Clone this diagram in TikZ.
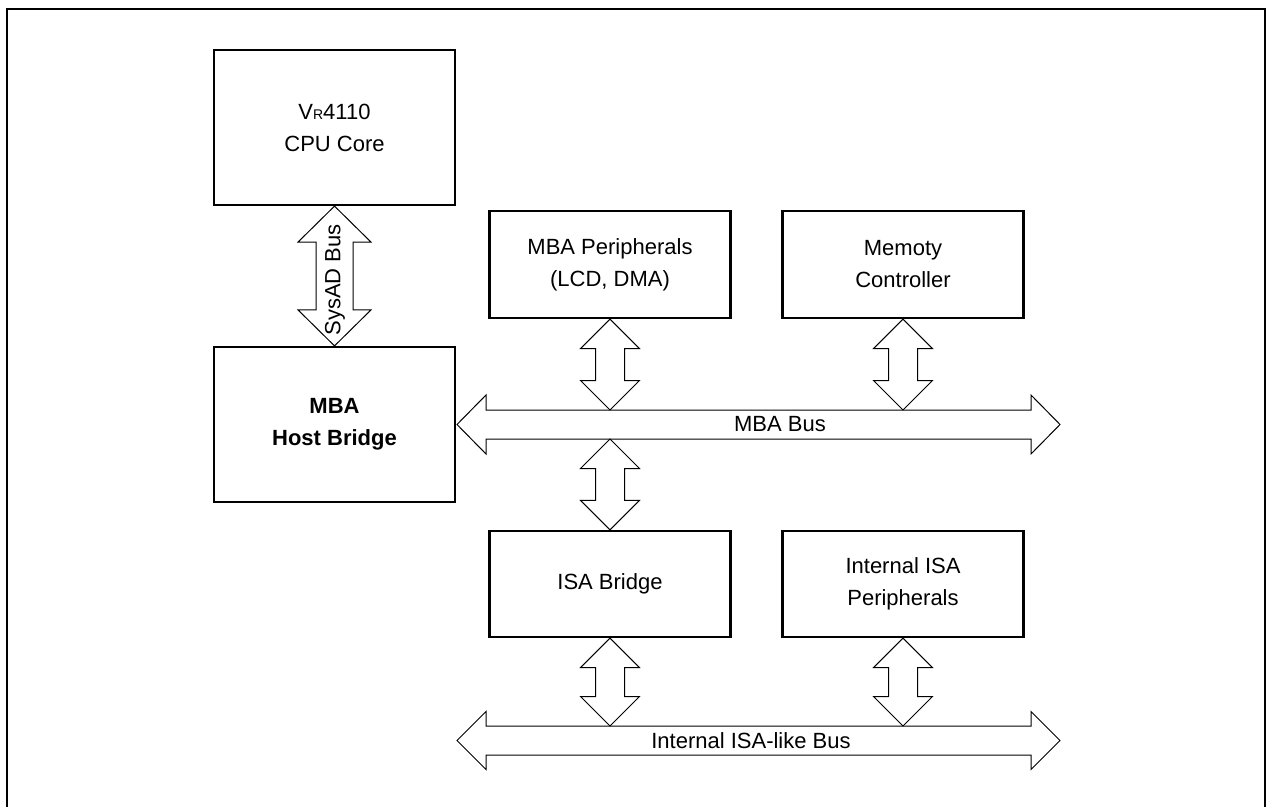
\documentclass[tikz,border=0pt]{standalone}
\usepackage{fontspec}
\setmainfont{Liberation Sans}
\usetikzlibrary{calc}

\tikzset{
  blok/.style={draw, line width=1.1pt, minimum width=120.5pt, align=center,
    font=\fontsize{11}{16}\selectfont},
  busrand/.style={draw, line width=0.5pt},
  buslabel/.style={font=\fontsize{11}{13}\selectfont},
}

% dikke pijl verticaal: top, bodem, halve kopbreedte, halve schachtbreedte, koplengte
\newcommand{\vbus}[5]{%
  \draw[busrand] (#1) -- ++(#3,#5) -- ++(#4-#3,0) -- ($(#2)+(#4,-#5)$) -- ++(#3-#4,0)
    -- (#2) -- ++(-#3,-#5) -- ++(#3-#4,0) -- ($(#1)+(-#4,#5)$) -- ++(#4-#3,0) -- cycle;}
% dikke pijl horizontaal: links, rechts, halve kophoogte, halve schachthoogte, koplengte
\newcommand{\hbus}[5]{%
  \draw[busrand] (#1) -- ++(#5,-#3) -- ++(0,#3-#4) -- ($(#2)+(-#5,-#4)$) -- ++(0,#4-#3)
    -- (#2) -- ++(-#5,#3) -- ++(0,#4-#3) -- ($(#1)+(#5,#4)$) -- ++(0,#3-#4) -- cycle;}

\begin{document}
\begin{tikzpicture}[x=0.5pt,y=-0.5pt]
\useasboundingbox (0,0) rectangle (1267,807);

% Kader
\draw[line width=1pt] (6.5,807) -- (6.5,9) -- (1265,9) -- (1265,807);

% Blokken
\node[blok, minimum height=77.5pt] (cpu) at (334.5,127.5) {V{\fontsize{7}{8}\selectfont R}4110\\CPU Core};
\node[blok, minimum height=77.5pt, font=\fontsize{11}{16}\selectfont\bfseries] (host) at (334.5,424.5) {MBA\\Host Bridge};
\node[blok, minimum height=53.5pt] (mbaper) at (610,264.5) {MBA Peripherals\\(LCD, DMA)};
\node[blok, minimum height=53.5pt] (memctl) at (903,264.5) {Memoty\\Controller};
\node[blok, minimum height=53pt] (isabr) at (610,584) {ISA Bridge};
\node[blok, minimum height=53pt] (isaper) at (903,584) {Internal ISA\\Peripherals};

% Bussen
\coordinate (mbaL) at (457,424.5);
\coordinate (mbaR) at (1060,424.5);
\coordinate (mbatop) at ($(mbaL)+(0,-14.5)$);
\coordinate (mbabot) at ($(mbaL)+(0,14.5)$);
\coordinate (isaL) at (457,740.5);
\coordinate (isaR) at (1060,740.5);
\coordinate (isatop) at ($(isaL)+(0,-14.5)$);

\hbus{mbaL}{mbaR}{29.5}{14.5}{29}
\hbus{isaL}{isaR}{29}{14.5}{29}
\node[buslabel] (mbalbl) at (780,424.5) {MBA Bus};
\node[buslabel] (isalbl) at (751,740.5) {Internal ISA-like Bus};

% Verbindingen
\vbus{cpu.south}{host.north}{36.5}{18.5}{36}
\node[buslabel, rotate=90] (syslbl) at (335,280) {SysAD Bus};
\vbus{mbaper.south}{mbaper.south |- mbatop}{29.5}{14.5}{29.5}
\vbus{memctl.south}{memctl.south |- mbatop}{29.5}{14.5}{29.5}
\vbus{isabr.north |- mbabot}{isabr.north}{29.5}{14.5}{29.5}
\vbus{isabr.south}{isabr.south |- isatop}{29.5}{14.5}{29.5}
\vbus{isaper.south}{isaper.south |- isatop}{29.5}{14.5}{29.5}
\end{tikzpicture}
\end{document}
